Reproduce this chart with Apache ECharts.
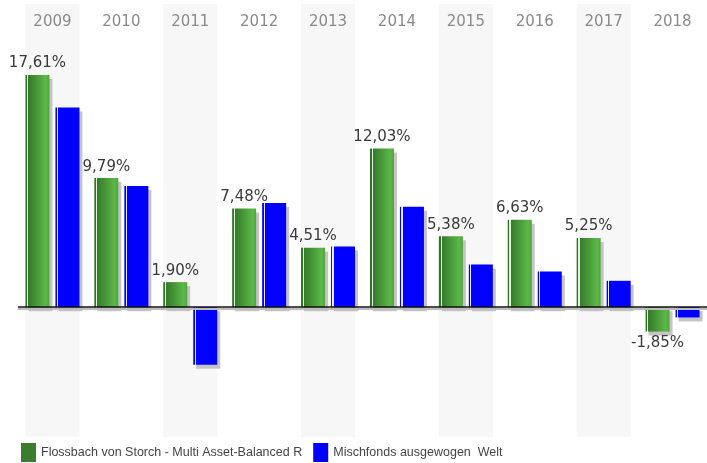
<!DOCTYPE html>
<html lang="de">
<head>
    <meta charset="UTF-8">
    <script src="https://cdn.jsdelivr.net/npm/echarts@6/dist/echarts.min.js"></script>
    <title>Fondsvergleich</title>
    <style>
        html, body { margin: 0; padding: 0; background: #fff; }
        #main { width: 707px; height: 463px; }
    </style>
</head>
<body>
    <div id="main"></div>
    <script type="text/javascript">
        // Jahre und Wertentwicklung in %
        let years = ['2009', '2010', '2011', '2012', '2013', '2014', '2015', '2016', '2017', '2018'];
        let fondsName = 'Flossbach von Storch - Multi Asset-Balanced R';
        let vergleichName = 'Mischfonds ausgewogen  Welt';
        let fonds = [17.61, 9.79, 1.90, 7.48, 4.51, 12.03, 5.38, 6.63, 5.25, -1.85];
        let vergleich = [15.15, 9.2, -4.37, 7.91, 4.6, 7.61, 3.23, 2.7, 2.0, -0.78];
        // graue Hintergrundstreifen (jedes zweite Jahr)
        let bands = [1, 0, 1, 0, 1, 0, 1, 0, 1, 0];

        let chart = echarts.init(document.getElementById('main'));

        let greenFill = new echarts.graphic.LinearGradient(0, 0, 1, 0, [
            { offset: 0, color: '#2f7326' },
            { offset: 0.07, color: '#2f7326' },
            { offset: 0.07, color: '#e4f0e0' },
            { offset: 0.12, color: '#e4f0e0' },
            { offset: 0.12, color: '#347a2a' },
            { offset: 0.85, color: '#5cb848' },
            { offset: 1, color: '#4fa43c' }
        ]);
        let blueFill = new echarts.graphic.LinearGradient(0, 0, 1, 0, [
            { offset: 0, color: '#0000ff' },
            { offset: 0.06, color: '#0000ff' },
            { offset: 0.06, color: '#e8e8ff' },
            { offset: 0.11, color: '#e8e8ff' },
            { offset: 0.11, color: '#0000ff' },
            { offset: 1, color: '#0000ff' }
        ]);

        let shadow = {
            shadowColor: '#c4c4c4',
            shadowBlur: 0,
            shadowOffsetX: 3,
            shadowOffsetY: 4
        };

        let fmt = function (v) {
            return v.toFixed(2).replace('.', ',') + '%';
        };

        let fondsData = fonds.map(function (v) {
            return {
                value: v,
                label: { position: v < 0 ? 'bottom' : 'top' }
            };
        });

        let option = {
            animation: false,
            grid: { left: 18, right: -1, top: 4, bottom: 26 },
            legend: {
                left: 16,
                bottom: -4,
                itemWidth: 15,
                itemHeight: 19,
                itemGap: 11,
                icon: 'rect',
                textStyle: {
                    color: '#444',
                    fontFamily: 'Liberation Sans',
                    fontSize: 12.5
                },
                data: [
                    { name: fondsName, itemStyle: { color: '#3a7d2c' } },
                    { name: vergleichName, itemStyle: { color: '#0000ff' } }
                ]
            },
            xAxis: [{
                type: 'category',
                data: years,
                position: 'top',
                axisLine: { show: false },
                axisTick: { show: false },
                axisLabel: {
                    inside: true,
                    margin: 11,
                    color: '#8a8a8a',
                    fontFamily: 'DejaVu Sans',
                    fontSize: 15
                }
            }, {
                type: 'category',
                data: years,
                show: false
            }],
            yAxis: [{
                type: 'value',
                min: -9.85,
                max: 23.0,
                show: false,
                splitLine: { show: false }
            }, {
                type: 'value',
                min: 0,
                max: 1,
                show: false
            }],
            series: [{
                name: 'bands',
                type: 'bar',
                xAxisIndex: 1,
                yAxisIndex: 1,
                data: bands,
                barWidth: 54,
                silent: true,
                z: 0,
                itemStyle: { color: '#f7f7f7' }
            }, {
                name: fondsName,
                type: 'bar',
                data: fondsData,
                barWidth: 24,
                barGap: '25%',
                z: 3,
                itemStyle: Object.assign({ color: greenFill }, shadow),
                label: {
                    show: true,
                    distance: 4,
                    color: '#3a3a3a',
                    fontFamily: 'DejaVu Sans',
                    fontSize: 15,
                    formatter: function (p) { return fmt(p.value); }
                },
                markLine: {
                    silent: true,
                    symbol: 'none',
                    label: { show: false },
                    z: 5,
                    data: [{
                        yAxis: -0.14,
                        lineStyle: { color: '#bdbdbd', width: 2, type: 'solid' }
                    }, {
                        yAxis: 0,
                        lineStyle: { color: '#111', width: 1.5, type: 'solid' }
                    }]
                }
            }, {
                name: vergleichName,
                type: 'bar',
                data: vergleich,
                barWidth: 24,
                z: 3,
                itemStyle: Object.assign({ color: blueFill }, shadow)
            }]
        };

        chart.setOption(option);
    </script>
</body>
</html>
